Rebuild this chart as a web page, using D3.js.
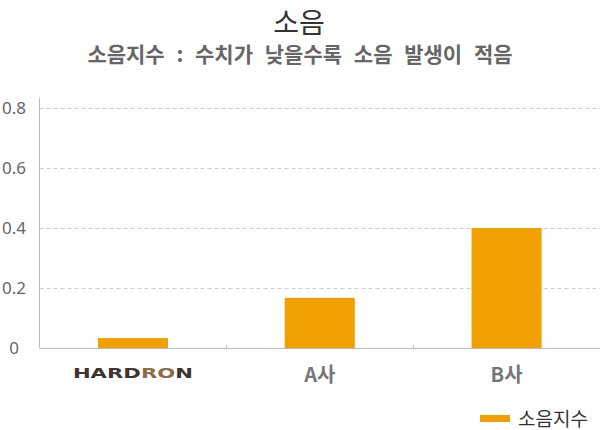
<!DOCTYPE html>
<html>
<head>
<meta charset="utf-8">
<script src="https://cdn.jsdelivr.net/npm/d3@7"></script>
<style>
  body { margin: 0; background: #fff; }
  svg { display: block; font-family: "Noto Sans CJK KR", "Noto Sans", sans-serif; }
</style>
</head>
<body>
<svg id="chart" width="600" height="430"></svg>
<script>
// data
const categories = ["HARDRON", "A사", "B사"];
const noiseIndex = [0.033, 0.167, 0.4];
const yTicks = [0, 0.2, 0.4, 0.6, 0.8];
const yTickLabels = ["0", "0.2", "0.4", "0.6", "0.8"];
const seriesName = "소음지수";

const svg = d3.select("#chart");
const orange = "#f0a000";
const plotLeft = 39.5, plotRight = 600, plotTop = 108, plotBottom = 348;

const x = d3.scaleBand().domain(categories).range([plotLeft, plotRight]).padding(0);
const y = d3.scaleLinear().domain([0, 0.8]).range([plotBottom, plotTop]);

// title
svg.append("text")
  .attr("x", 299).attr("y", 33)
  .attr("text-anchor", "middle")
  .style("font-size", "28px")
  .style("fill", "#333")
  .text("소음");

svg.append("text")
  .attr("x", 300).attr("y", 62)
  .attr("text-anchor", "middle")
  .style("font-size", "21px")
  .style("font-weight", "bold")
  .style("word-spacing", "7px")
  .style("fill", "#666")
  .text("소음지수 : 수치가 낮을수록 소음 발생이 적음");

// grid lines
svg.append("g")
  .selectAll("line")
  .data(yTicks.filter(d => d > 0))
  .join("line")
  .attr("x1", plotLeft).attr("x2", plotRight)
  .attr("y1", d => Math.round(y(d)) + 0.5)
  .attr("y2", d => Math.round(y(d)) + 0.5)
  .attr("stroke", "#ccc")
  .attr("stroke-dasharray", "4,3");

// y labels
svg.append("g")
  .selectAll("text")
  .data(yTicks)
  .join("text")
  .attr("x", 14)
  .attr("y", d => y(d))
  .attr("dy", "0.35em")
  .attr("text-anchor", "middle")
  .style("font-family", "'Noto Sans', sans-serif")
  .style("font-size", "17px")
  .style("fill", "#666")
  .text((d, i) => yTickLabels[i]);

// bars
const barW = x.bandwidth() * 0.375;
svg.append("g")
  .selectAll("rect")
  .data(categories)
  .join("rect")
  .attr("x", d => x(d) + (x.bandwidth() - barW) / 2)
  .attr("width", barW)
  .attr("y", (d, i) => y(noiseIndex[i]))
  .attr("height", (d, i) => y(0) - y(noiseIndex[i]))
  .attr("fill", orange);

// axes lines
svg.append("line")
  .attr("x1", plotLeft).attr("x2", plotLeft)
  .attr("y1", y(0.8) - 10).attr("y2", plotBottom)
  .attr("stroke", "#bbb");
svg.append("line")
  .attr("x1", plotLeft).attr("x2", plotRight)
  .attr("y1", plotBottom + 0.5).attr("y2", plotBottom + 0.5)
  .attr("stroke", "#bbb");

// small tick marks between categories
svg.append("g")
  .selectAll("line")
  .data(categories.slice(1))
  .join("line")
  .attr("x1", d => Math.round(x(d)) + 0.5)
  .attr("x2", d => Math.round(x(d)) + 0.5)
  .attr("y1", plotBottom - 3).attr("y2", plotBottom)
  .attr("stroke", "#bbb");

// category labels
const labels = svg.append("g");
categories.forEach((c, i) => {
  const cx = x(c) + x.bandwidth() / 2;
  if (c === "HARDRON") {
    // logo drawn as text
    const t = labels.append("text")
      .attr("x", cx - 60).attr("y", 378)
      .attr("textLength", 120)
      .attr("lengthAdjust", "spacingAndGlyphs")
      .style("font-family", "'DejaVu Sans', sans-serif")
      .style("font-size", "14px")
      .style("font-weight", "bold");
    t.append("tspan").attr("fill", "#3b3431").text("HARD");
    t.append("tspan").attr("fill", "#8c6c42").text("RO");
    t.append("tspan").attr("fill", "#3b3431").text("N");
  } else {
    labels.append("text")
      .attr("x", cx).attr("y", 382)
      .attr("text-anchor", "middle")
      .style("font-size", "20px")
      .style("font-weight", "bold")
      .style("fill", "#777")
      .text(c);
  }
});

// legend
const legend = svg.append("g").attr("transform", "translate(480,415)");
legend.append("rect").attr("width", 30).attr("height", 7).attr("fill", orange);
legend.append("text")
  .attr("x", 38).attr("y", 4)
  .attr("dy", "0.35em")
  .style("font-size", "19px")
  .style("fill", "#333")
  .text(seriesName);
</script>
</body>
</html>
